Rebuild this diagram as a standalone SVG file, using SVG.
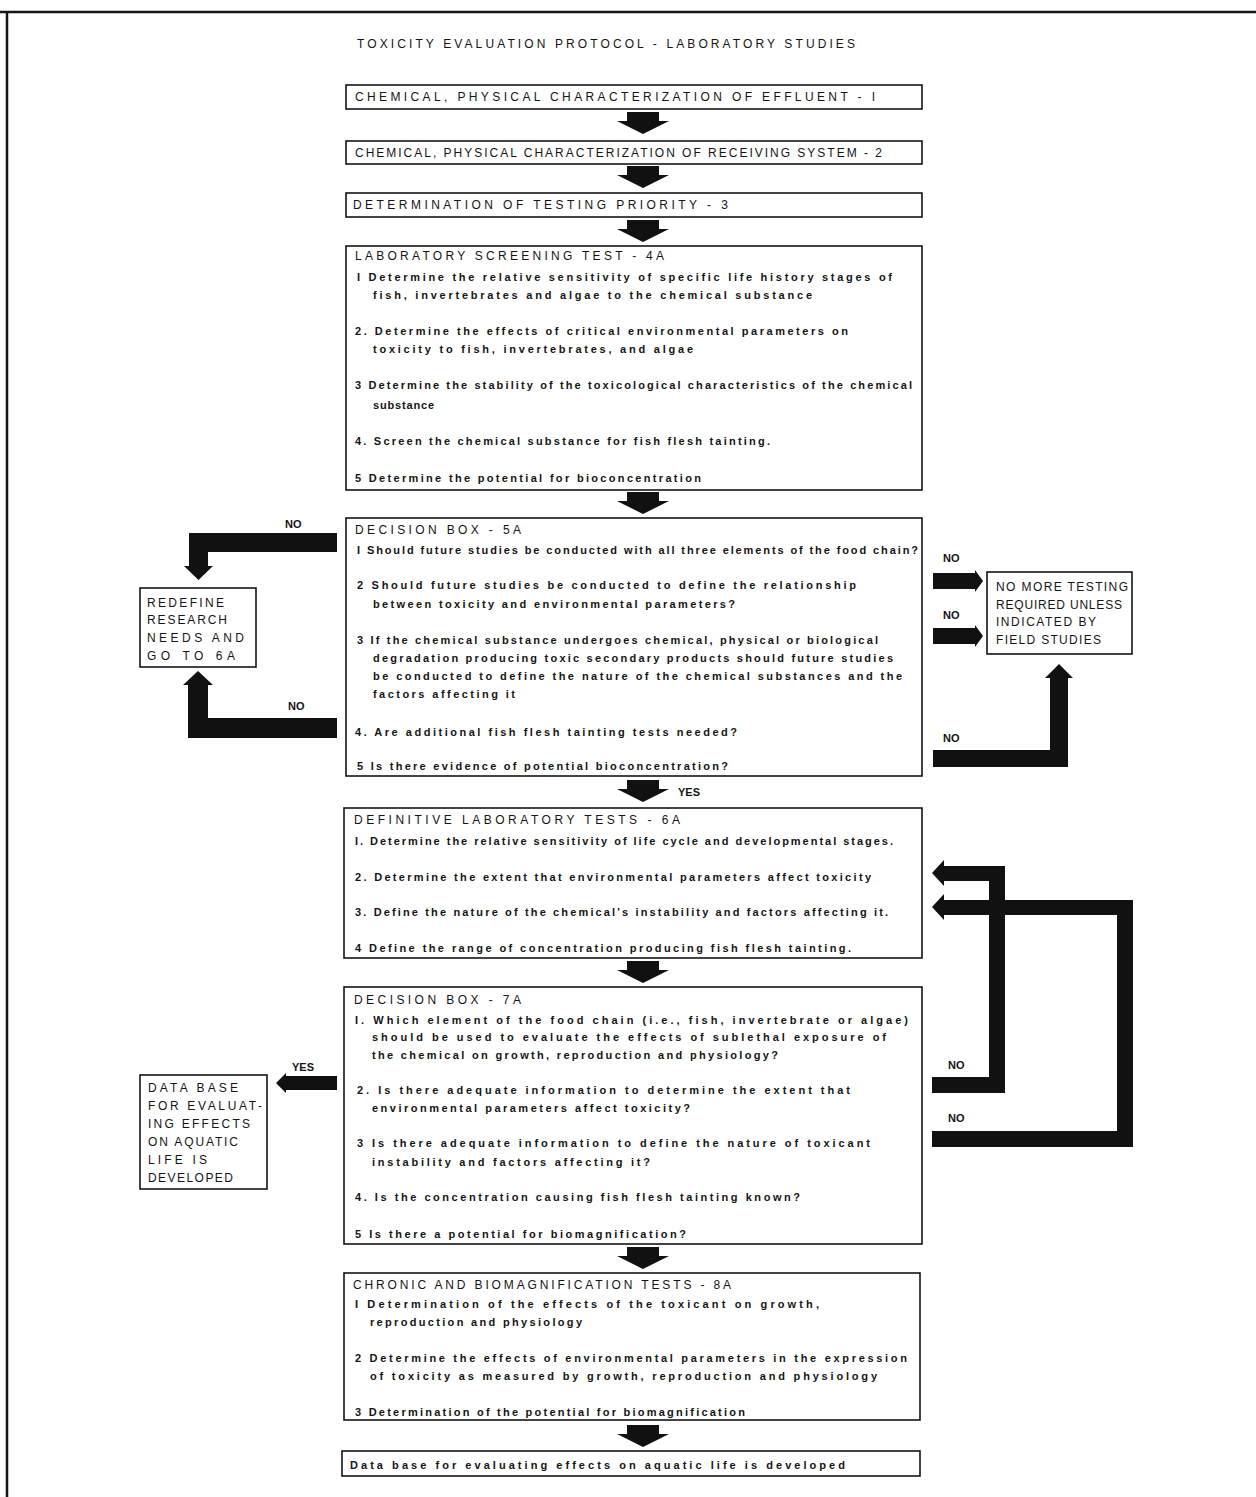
<svg xmlns="http://www.w3.org/2000/svg" width="1256" height="1497" viewBox="0 0 1256 1497">
<style>
text{font-family:"Liberation Sans",Arial,sans-serif;fill:#141414}
.u{font-size:12px}
.s{font-size:11px;font-weight:bold}
.l{font-size:11px}
.box{fill:#fff;stroke:#141414;stroke-width:1.6}
.ar{fill:#111;stroke:none}
</style>
<defs>
<path id="down" d="M-16,0 L16,0 L16,9 L26,9 L0,22 L-26,9 L-16,9 Z"/>
</defs>
<rect width="1256" height="1497" fill="#fff"/>
<line x1="0" y1="12" x2="1256" y2="12" stroke="#141414" stroke-width="2.5"/>
<line x1="7" y1="12" x2="7" y2="1497" stroke="#141414" stroke-width="2.5"/>
<text class="u" x="357" y="48" textLength="498" lengthAdjust="spacing">TOXICITY EVALUATION PROTOCOL - LABORATORY STUDIES</text>

<g id="connectors">
<use href="#down" class="ar" x="643" y="112"/>
<use href="#down" class="ar" x="643" y="166"/>
<use href="#down" class="ar" x="643" y="220"/>
<use href="#down" class="ar" x="643" y="492"/>
<use href="#down" class="ar" x="643" y="780"/>
<use href="#down" class="ar" x="643" y="961"/>
<use href="#down" class="ar" x="643" y="1247"/>
<use href="#down" class="ar" x="643" y="1425"/>
<path class="ar" d="M337,533 L189,533 L189,566 L184,566 L198.5,580 L213,566 L208,566 L208,552 L337,552 Z"/>
<path class="ar" d="M337,718 L208,718 L208,685 L213,685 L198,671 L183,685 L188,685 L188,738 L337,738 Z"/>
<path class="ar" d="M933,573 L975,573 L975,570 L983,581 L975,592 L975,589 L933,589 Z"/>
<path class="ar" d="M933,628 L975,628 L975,625 L983,636 L975,647 L975,644 L933,644 Z"/>
<path class="ar" d="M933,750 L1050,750 L1050,678 L1045,678 L1059,664 L1073,678 L1068,678 L1068,767 L933,767 Z"/>
<path class="ar" d="M932,873 L944,860 L944,866 L1005,866 L1005,1093 L932,1093 L932,1077 L989,1077 L989,881 L944,881 L944,886 Z"/>
<path class="ar" d="M932,907 L944,894 L944,900 L1133,900 L1133,1147 L932,1147 L932,1131 L1117,1131 L1117,915 L944,915 L944,920 Z"/>
<path class="ar" d="M337,1076 L286,1076 L286,1073 L276,1083 L286,1093 L286,1090 L337,1090 Z"/>
<text class="s" x="285" y="528">NO</text>
<text class="s" x="288" y="710">NO</text>
<text class="s" x="943" y="562">NO</text>
<text class="s" x="943" y="619">NO</text>
<text class="s" x="943" y="742">NO</text>
<text class="s" x="678" y="796">YES</text>
<text class="s" x="292" y="1071">YES</text>
<text class="s" x="948" y="1069">NO</text>
<text class="s" x="948" y="1122">NO</text>
</g>

<g id="n1">
<rect class="box" x="346" y="85" width="576" height="24"/>
<text class="u" x="355" y="101" textLength="520" lengthAdjust="spacing">CHEMICAL, PHYSICAL CHARACTERIZATION OF EFFLUENT - I</text>
</g>
<g id="n2">
<rect class="box" x="346" y="141" width="576" height="23"/>
<text class="u" x="355" y="157" textLength="527" lengthAdjust="spacing">CHEMICAL, PHYSICAL CHARACTERIZATION OF RECEIVING SYSTEM - 2</text>
</g>
<g id="n3">
<rect class="box" x="346" y="193" width="576" height="24"/>
<text class="u" x="353" y="209" textLength="375" lengthAdjust="spacing">DETERMINATION OF TESTING PRIORITY - 3</text>
</g>
<g id="n4">
<rect class="box" x="346" y="246" width="576" height="244"/>
<text class="u" x="355" y="260" textLength="309" lengthAdjust="spacing">LABORATORY SCREENING TEST - 4A</text>
<text class="s" x="357" y="281" textLength="535" lengthAdjust="spacing">I Determine the relative sensitivity of specific life history stages of</text>
<text class="s" x="373" y="299" textLength="439" lengthAdjust="spacing">fish, invertebrates and algae to the chemical substance</text>
<text class="s" x="355" y="335" textLength="493" lengthAdjust="spacing">2. Determine the effects of critical environmental parameters on</text>
<text class="s" x="373" y="353" textLength="320" lengthAdjust="spacing">toxicity to fish, invertebrates, and algae</text>
<text class="s" x="355" y="389" textLength="557" lengthAdjust="spacing">3 Determine the stability of the toxicological characteristics of the chemical</text>
<text class="s" x="373" y="409" textLength="61" lengthAdjust="spacing">substance</text>
<text class="s" x="355" y="445" textLength="415" lengthAdjust="spacing">4. Screen the chemical substance for fish flesh tainting.</text>
<text class="s" x="355" y="482" textLength="346" lengthAdjust="spacing">5 Determine the potential for bioconcentration</text>
</g>
<g id="n5">
<rect class="box" x="346" y="518" width="576" height="258"/>
<text class="u" x="355" y="534" textLength="166" lengthAdjust="spacing">DECISION BOX - 5A</text>
<text class="s" x="357" y="554" textLength="561" lengthAdjust="spacing">I Should future studies be conducted with all three elements of the food chain?</text>
<text class="s" x="357" y="589" textLength="499" lengthAdjust="spacing">2 Should future studies be conducted to define the relationship</text>
<text class="s" x="373" y="608" textLength="362" lengthAdjust="spacing">between toxicity and environmental parameters?</text>
<text class="s" x="357" y="644" textLength="521" lengthAdjust="spacing">3 If the chemical substance undergoes chemical, physical or biological</text>
<text class="s" x="373" y="662" textLength="520" lengthAdjust="spacing">degradation producing toxic secondary products should future studies</text>
<text class="s" x="373" y="680" textLength="529" lengthAdjust="spacing">be conducted to define the nature of the chemical substances and the</text>
<text class="s" x="373" y="698" textLength="142" lengthAdjust="spacing">factors affecting it</text>
<text class="s" x="355" y="736" textLength="382" lengthAdjust="spacing">4. Are additional fish flesh tainting tests needed?</text>
<text class="s" x="357" y="770" textLength="371" lengthAdjust="spacing">5 Is there evidence of potential bioconcentration?</text>
</g>
<g id="n5no">
<rect class="box" x="140" y="588" width="116" height="79"/>
<text class="u" x="147" y="607" textLength="77" lengthAdjust="spacing">REDEFINE</text>
<text class="u" x="147" y="624" textLength="80" lengthAdjust="spacing">RESEARCH</text>
<text class="u" x="147" y="642" textLength="97" lengthAdjust="spacing">NEEDS AND</text>
<text class="u" x="147" y="660" textLength="88" lengthAdjust="spacing">GO TO 6A</text>
</g>
<g id="nomore">
<rect class="box" x="987" y="572" width="145" height="82"/>
<text class="u" x="996" y="591" textLength="132" lengthAdjust="spacing">NO MORE TESTING</text>
<text class="u" x="996" y="609" textLength="126" lengthAdjust="spacing">REQUIRED UNLESS</text>
<text class="u" x="996" y="626" textLength="100" lengthAdjust="spacing">INDICATED BY</text>
<text class="u" x="996" y="644" textLength="105" lengthAdjust="spacing">FIELD STUDIES</text>
</g>
<g id="n6">
<rect class="box" x="344" y="808" width="578" height="150"/>
<text class="u" x="354" y="824" textLength="326" lengthAdjust="spacing">DEFINITIVE LABORATORY TESTS - 6A</text>
<text class="s" x="355" y="845" textLength="538" lengthAdjust="spacing">I. Determine the relative sensitivity of life cycle and developmental stages.</text>
<text class="s" x="355" y="881" textLength="516" lengthAdjust="spacing">2. Determine the extent that environmental parameters affect toxicity</text>
<text class="s" x="355" y="916" textLength="533" lengthAdjust="spacing">3. Define the nature of the chemical's instability and factors affecting it.</text>
<text class="s" x="355" y="952" textLength="496" lengthAdjust="spacing">4 Define the range of concentration producing fish flesh tainting.</text>
</g>
<g id="n7">
<rect class="box" x="344" y="987" width="578" height="257"/>
<text class="u" x="354" y="1004" textLength="167" lengthAdjust="spacing">DECISION BOX - 7A</text>
<text class="s" x="355" y="1024" textLength="553" lengthAdjust="spacing">I. Which element of the food chain (i.e., fish, invertebrate or algae)</text>
<text class="s" x="372" y="1041" textLength="514" lengthAdjust="spacing">should be used to evaluate the effects of sublethal exposure of</text>
<text class="s" x="372" y="1059" textLength="406" lengthAdjust="spacing">the chemical on growth, reproduction and physiology?</text>
<text class="s" x="357" y="1094" textLength="493" lengthAdjust="spacing">2. Is there adequate information to determine the extent that</text>
<text class="s" x="372" y="1112" textLength="318" lengthAdjust="spacing">environmental parameters affect toxicity?</text>
<text class="s" x="357" y="1147" textLength="513" lengthAdjust="spacing">3 Is there adequate information to define the nature of toxicant</text>
<text class="s" x="372" y="1166" textLength="278" lengthAdjust="spacing">instability and factors affecting it?</text>
<text class="s" x="355" y="1201" textLength="445" lengthAdjust="spacing">4. Is the concentration causing fish flesh tainting known?</text>
<text class="s" x="355" y="1238" textLength="331" lengthAdjust="spacing">5 Is there a potential for biomagnification?</text>
</g>
<g id="n7yes">
<rect class="box" x="140" y="1075" width="127" height="114"/>
<text class="u" x="148" y="1092" textLength="90" lengthAdjust="spacing">DATA BASE</text>
<text class="u" x="148" y="1110" textLength="114" lengthAdjust="spacing">FOR EVALUAT-</text>
<text class="u" x="148" y="1128" textLength="102" lengthAdjust="spacing">ING EFFECTS</text>
<text class="u" x="148" y="1146" textLength="90" lengthAdjust="spacing">ON AQUATIC</text>
<text class="u" x="148" y="1164" textLength="59" lengthAdjust="spacing">LIFE IS</text>
<text class="u" x="148" y="1182" textLength="85" lengthAdjust="spacing">DEVELOPED</text>
</g>
<g id="n8">
<rect class="box" x="344" y="1273" width="576" height="147"/>
<text class="u" x="353" y="1289" textLength="378" lengthAdjust="spacing">CHRONIC AND BIOMAGNIFICATION TESTS - 8A</text>
<text class="s" x="355" y="1308" textLength="464" lengthAdjust="spacing">I Determination of the effects of the toxicant on growth,</text>
<text class="s" x="370" y="1326" textLength="212" lengthAdjust="spacing">reproduction and physiology</text>
<text class="s" x="355" y="1362" textLength="552" lengthAdjust="spacing">2 Determine the effects of environmental parameters in the expression</text>
<text class="s" x="370" y="1380" textLength="507" lengthAdjust="spacing">of toxicity as measured by growth, reproduction and physiology</text>
<text class="s" x="355" y="1416" textLength="390" lengthAdjust="spacing">3 Determination of the potential for biomagnification</text>
</g>
<g id="n9">
<rect class="box" x="342" y="1451" width="578" height="25"/>
<text class="s" x="350" y="1469" textLength="495" lengthAdjust="spacing">Data base for evaluating effects on aquatic life is developed</text>
</g>
</svg>
